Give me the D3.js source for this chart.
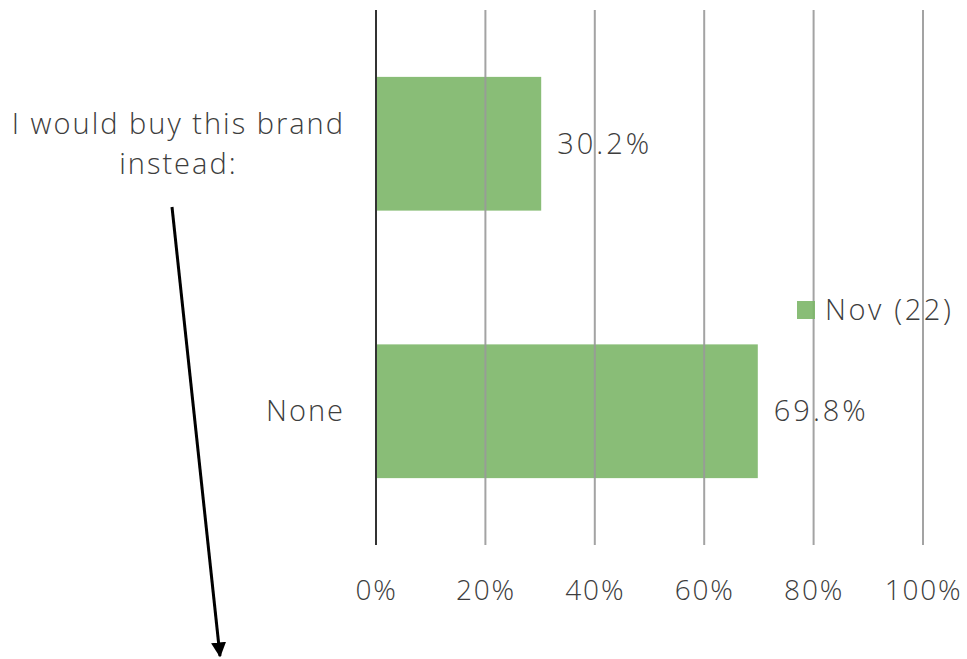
<!DOCTYPE html>
<html><head><meta charset="utf-8">
<script src="https://cdn.jsdelivr.net/npm/d3@7"></script>
<style>body{margin:0;background:#fff}svg{display:block}text{font-family:"Open Sans",sans-serif;fill:#3d3d3d;font-weight:300}</style>
</head><body><svg id="c" width="967" height="659"></svg>
<script>
const categories = [["I would buy this brand", "instead:"], ["None"]];
const values = [30.2, 69.8];
const valueLabels = ["30.2%", "69.8%"];
const seriesName = "Nov (22)";
const ticks = [0, 20, 40, 60, 80, 100];
const tickLabels = ["0%", "20%", "40%", "60%", "80%", "100%"];

const svg = d3.select("#c");
const pLeft = 376, pRight = 923, pTop = 10, pBottom = 545;
const FS = 29;
const x = d3.scaleLinear().domain([0, 100]).range([pLeft, pRight]);
const y = d3.scaleBand().domain(d3.range(categories.length)).range([pTop, pBottom]).padding(0.5).paddingOuter(0.25);

// bars
svg.selectAll("rect.bar").data(values).join("rect")
  .attr("x", x(0)).attr("y", (d, i) => y(i))
  .attr("width", d => x(d) - x(0)).attr("height", y.bandwidth())
  .attr("fill", "#7cb668").attr("fill-opacity", 0.9);

// gridlines
svg.selectAll("line.grid").data(ticks).join("line")
  .attr("x1", d => x(d)).attr("x2", d => x(d)).attr("y1", pTop).attr("y2", pBottom)
  .attr("stroke", d => d === 0 ? "#333" : "#999").attr("stroke-width", 2)
  .attr("stroke-opacity", d => d === 0 ? 1 : 0.9);

// tick labels
const ax = d3.axisBottom(x).tickValues(ticks).tickFormat((d, i) => tickLabels[i]).tickSize(0).tickPadding(0);
const g = svg.append("g").attr("transform", `translate(0,${pBottom + 37})`).call(ax);
g.select(".domain").remove();
g.selectAll("text").attr("font-size", 28).attr("font-family", "Open Sans").attr("fill", "#3d3d3d")
  .attr("letter-spacing", 1.8).attr("dy", "0.35em").attr("y", 8);

// value labels
svg.selectAll("text.val").data(values).join("text")
  .attr("x", d => x(d) + 16).attr("y", (d, i) => y(i) + y.bandwidth() / 2)
  .attr("dy", "0.35em").attr("font-size", FS).attr("letter-spacing", 3).text((d, i) => valueLabels[i]);

// category labels
categories.forEach((lines, i) => {
  const t = svg.append("text").attr("font-size", FS).attr("text-anchor", "middle").attr("letter-spacing", 2);
  const cy = y(i) + y.bandwidth() / 2;
  const lh = 40;
  const spans = lines.map((l, j) => t.append("tspan").text(l)
    .attr("y", cy + (j - (lines.length - 1) / 2) * lh).attr("dy", "0.35em"));
  const maxW = d3.max(spans, s => s.node().getComputedTextLength());
  spans.forEach(s => s.attr("x", 345 - maxW / 2));
});

// legend
const lg = svg.append("g").attr("transform", "translate(797,301)");
lg.append("rect").attr("width", 18).attr("height", 18).attr("fill", "#7cb668").attr("fill-opacity", 0.9);
lg.append("text").attr("x", 28).attr("y", 9).attr("dy", "0.35em").attr("font-size", FS).attr("letter-spacing", 2.6).text(seriesName);

// arrow
svg.append("defs").append("marker").attr("id", "ah").attr("viewBox", "0 0 10 10")
  .attr("refX", 9).attr("refY", 5).attr("markerWidth", 5).attr("markerHeight", 5)
  .attr("markerUnits", "strokeWidth").attr("orient", "auto")
  .append("path").attr("d", "M0,0L10,5L0,10Z").attr("fill", "#000");
svg.append("line").attr("x1", 172).attr("y1", 207).attr("x2", 220).attr("y2", 656)
  .attr("stroke", "#000").attr("stroke-width", 3).attr("marker-end", "url(#ah)");
</script></body></html>
